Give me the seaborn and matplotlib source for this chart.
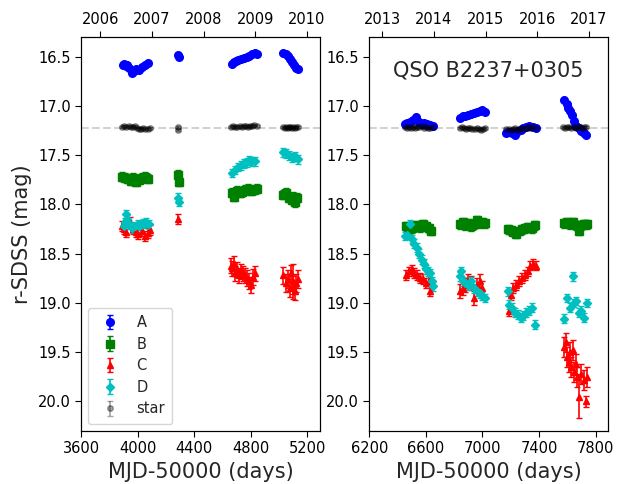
import numpy as np
import pandas as pd
import matplotlib
matplotlib.use('Agg')
import matplotlib.pyplot as plt
import seaborn as sns

# ---- light curves (MJD-50000, r-SDSS mag) ----
mjd_A = [3895, 3905, 3915, 3925, 3940, 3960, 3975, 3990, 4010, 4030, 4050, 4075,
         4285, 4290,
         4665, 4680, 4695, 4710, 4730, 4750, 4770, 4790, 4810, 4830, 4845,
         5030, 5045, 5060, 5075, 5090, 5105, 5120, 5135,
         6450, 6470, 6490, 6510, 6530, 6550, 6570, 6590, 6610, 6630, 6650,
         6840, 6860, 6880, 6900, 6920, 6940, 6960, 6980, 7000, 7020,
         7170, 7190, 7210, 7230, 7250, 7270, 7290, 7310, 7330, 7360, 7380,
         7580, 7595, 7605, 7620, 7635, 7650, 7665, 7680, 7700, 7720, 7735]
mag_A = [16.58, 16.57, 16.59, 16.58, 16.61, 16.67, 16.64, 16.62, 16.63, 16.60, 16.58, 16.56,
         16.48, 16.50,
         16.57, 16.55, 16.54, 16.53, 16.52, 16.51, 16.50, 16.49, 16.47, 16.46, 16.47,
         16.46, 16.47, 16.49, 16.52, 16.55, 16.58, 16.61, 16.62,
         17.18, 17.17, 17.16, 17.14, 17.11, 17.16, 17.18, 17.17, 17.18, 17.19, 17.20,
         17.12, 17.10, 17.10, 17.09, 17.08, 17.07, 17.06, 17.05, 17.04, 17.06,
         17.27, 17.26, 17.27, 17.29, 17.25, 17.24, 17.22, 17.21, 17.20, 17.21, 17.22,
         16.94, 16.98, 17.02, 17.05, 17.09, 17.15, 17.20, 17.22, 17.25, 17.27, 17.29]
err_A = 0.012

mjd_B = [3890, 3910, 3930, 3950, 3970, 3990, 4010, 4030, 4050, 4075,
         4286, 4289,
         4665, 4680, 4700, 4720, 4740, 4760, 4780, 4800, 4820, 4840,
         5030, 5050, 5070, 5090, 5100, 5110, 5125,
         6460, 6480, 6500, 6520, 6540, 6560, 6580, 6600, 6620, 6640,
         6840, 6860, 6880, 6900, 6920, 6940, 6960, 6980, 7000, 7020,
         7180, 7200, 7220, 7240, 7260, 7280, 7300, 7320, 7350, 7375,
         7580, 7600, 7620, 7640, 7660, 7680, 7700, 7720, 7740]
mag_B = [17.72, 17.73, 17.74, 17.76, 17.73, 17.77, 17.75, 17.73, 17.72, 17.74,
         17.70, 17.77,
         17.88, 17.92, 17.86, 17.88, 17.87, 17.85, 17.84, 17.86, 17.85, 17.84,
         17.90, 17.88, 17.93, 17.95, 17.92, 17.98, 17.93,
         18.22, 18.25, 18.24, 18.22, 18.21, 18.23, 18.20, 18.22, 18.24, 18.27,
         18.20, 18.18, 18.21, 18.19, 18.22, 18.20, 18.16, 18.19, 18.18, 18.19,
         18.25, 18.26, 18.28, 18.30, 18.27, 18.25, 18.24, 18.23, 18.24, 18.21,
         18.19, 18.18, 18.20, 18.18, 18.21, 18.27, 18.21, 18.20, 18.20]
err_B = 0.045

mjd_C = [3890, 3905, 3920, 3945, 3965, 3985, 4005, 4030, 4050, 4070, 4085,
         4287,
         4660, 4670, 4680, 4690, 4700, 4715, 4730, 4745, 4760, 4775, 4790, 4800, 4815, 4830,
         5030, 5045, 5060, 5075, 5085, 5095, 5100, 5110, 5120, 5130,
         6460, 6480, 6500, 6520, 6540, 6560, 6580, 6600, 6620, 6630,
         6840, 6860, 6880, 6900, 6920, 6940, 6960, 6980, 7000,
         7185, 7200, 7220, 7240, 7260, 7280, 7300, 7320, 7340, 7360, 7380,
         7580, 7590, 7600, 7610, 7620, 7630, 7640, 7650, 7660, 7670, 7680, 7700, 7720, 7730, 7740]
mag_C = [18.22, 18.25, 18.28, 18.18, 18.25, 18.28, 18.30, 18.27, 18.32, 18.29, 18.26,
         18.15,
         18.62, 18.65, 18.60, 18.70, 18.66, 18.72, 18.68, 18.70, 18.72, 18.75, 18.78, 18.82, 18.74, 18.70,
         18.72, 18.80, 18.76, 18.85, 18.70, 18.82, 18.78, 18.88, 18.80, 18.76,
         18.72, 18.68, 18.66, 18.70, 18.72, 18.75, 18.76, 18.80, 18.78, 18.88,
         18.88, 18.85, 18.82, 18.78, 18.80, 18.95, 18.82, 18.78, 18.85,
         19.08, 18.92, 18.85, 18.82, 18.78, 18.75, 18.72, 18.68, 18.62, 18.60, 18.62,
         19.45, 19.40, 19.55, 19.60, 19.50, 19.65, 19.48, 19.70, 19.62, 19.75, 19.95, 19.72, 19.78, 20.00, 19.75]
err_C = [0.05, 0.05, 0.05, 0.05, 0.05, 0.05, 0.05, 0.05, 0.05, 0.05, 0.05,
         0.05,
         0.08, 0.08, 0.08, 0.08, 0.08, 0.08, 0.08, 0.08, 0.08, 0.08, 0.08, 0.08, 0.08, 0.08,
         0.09, 0.09, 0.09, 0.09, 0.09, 0.09, 0.18, 0.09, 0.09, 0.09,
         0.05, 0.05, 0.05, 0.05, 0.05, 0.05, 0.05, 0.05, 0.05, 0.05,
         0.07, 0.07, 0.07, 0.07, 0.07, 0.07, 0.07, 0.07, 0.07,
         0.05, 0.05, 0.05, 0.05, 0.05, 0.05, 0.05, 0.05, 0.05, 0.05, 0.05,
         0.10, 0.10, 0.10, 0.10, 0.10, 0.10, 0.10, 0.10, 0.10, 0.10, 0.22, 0.10, 0.10, 0.06, 0.10]

mjd_D = [3900, 3910, 3920, 3925, 3940, 3960, 3980, 4000, 4020, 4040, 4060, 4080,
         4286, 4289,
         4670, 4690, 4710, 4730, 4750, 4770, 4790, 4810, 4830,
         5030, 5050, 5070, 5090, 5110, 5130,
         6455, 6470, 6490, 6500, 6520, 6540, 6555, 6570, 6585, 6600, 6615, 6630, 6645, 6650,
         6840, 6850, 6860, 6880, 6900, 6920, 6940, 6960, 6980, 7000, 7020,
         7180, 7190, 7210, 7230, 7250, 7270, 7290, 7310, 7330, 7350, 7370,
         7580, 7600, 7620, 7640, 7650, 7660, 7680, 7700, 7720, 7740]
mag_D = [18.22, 18.18, 18.10, 18.15, 18.20, 18.24, 18.22, 18.20, 18.21, 18.19, 18.18, 18.20,
         17.93, 17.97,
         17.68, 17.65, 17.62, 17.60, 17.58, 17.57, 17.55, 17.56, 17.56,
         17.47, 17.48, 17.50, 17.52, 17.51, 17.54,
         18.32, 18.31, 18.20, 18.35, 18.40, 18.44, 18.50, 18.56, 18.60, 18.66, 18.68, 18.70, 18.78, 18.83,
         18.73, 18.68, 18.78, 18.80, 18.82, 18.78, 18.85, 18.88, 18.90, 18.93, 18.95,
         18.88, 19.02, 19.05, 19.10, 19.12, 19.15, 19.13, 19.10, 19.08, 19.05, 19.22,
         19.16, 18.95, 19.05, 18.73, 19.00, 18.98, 19.10, 19.08, 19.15, 19.00]
err_D = 0.045

mjd_star = [3890, 3905, 3920, 3935, 3950, 3965, 3980, 3995, 4010, 4025, 4040, 4055, 4070, 4085,
            4286, 4288,
            4660, 4675, 4690, 4705, 4720, 4735, 4750, 4765, 4780, 4795, 4810, 4825, 4840,
            5030, 5040, 5050, 5060, 5070, 5080, 5090, 5100, 5110, 5120, 5130,
            6450, 6465, 6480, 6495, 6510, 6525, 6540, 6555, 6570, 6585, 6600, 6615, 6630, 6650,
            6840, 6855, 6870, 6885, 6900, 6915, 6930, 6945, 6960, 6975, 6990, 7005, 7020,
            7170, 7185, 7200, 7215, 7230, 7245, 7260, 7275, 7290, 7305, 7320, 7340, 7360, 7380,
            7570, 7585, 7600, 7615, 7630, 7645, 7660, 7675, 7690, 7705, 7720, 7735]
mag_star = [17.21, 17.20, 17.21, 17.20, 17.21, 17.21, 17.20, 17.22, 17.23, 17.23, 17.22, 17.23, 17.23, 17.22,
            17.21, 17.24,
            17.21, 17.20, 17.21, 17.21, 17.20, 17.21, 17.20, 17.20, 17.21, 17.20, 17.20, 17.19, 17.20,
            17.21, 17.22, 17.21, 17.22, 17.21, 17.21, 17.22, 17.21, 17.22, 17.21, 17.21,
            17.21, 17.22, 17.21, 17.22, 17.21, 17.22, 17.21, 17.21, 17.20, 17.22, 17.21, 17.22, 17.22, 17.21,
            17.22, 17.21, 17.22, 17.23, 17.22, 17.22, 17.23, 17.23, 17.22, 17.23, 17.24, 17.23, 17.22,
            17.23, 17.23, 17.24, 17.23, 17.22, 17.24, 17.23, 17.22, 17.23, 17.22, 17.21, 17.22, 17.21, 17.22,
            17.21, 17.22, 17.21, 17.21, 17.22, 17.21, 17.22, 17.21, 17.21, 17.22, 17.21, 17.21]
err_star = 0.01

star_ref = 17.22

# top axis: 1 January of each year in MJD-50000
years_left = ['2006', '2007', '2008', '2009', '2010']
year_mjd_left = [3736, 4101, 4466, 4832, 5197]
years_right = ['2013', '2014', '2015', '2016', '2017']
year_mjd_right = [6293, 6658, 7023, 7388, 7754]

series = [
    ('A', mjd_A, mag_A, err_A, 'b', 'o', 5.5, 1.0),
    ('B', mjd_B, mag_B, err_B, 'g', 's', 5.5, 1.0),
    ('C', mjd_C, mag_C, err_C, 'r', '^', 5.0, 1.0),
    ('D', mjd_D, mag_D, err_D, 'c', 'D', 4.5, 1.0),
    ('star', mjd_star, mag_star, err_star, 'k', 'o', 4.0, 0.35),
]

sns.set_style('ticks', rc={'axes.edgecolor': 'black', 'xtick.color': 'black',
                           'ytick.color': 'black', 'axes.linewidth': 1.0})
plt.rcParams['font.family'] = ['DejaVu Sans']

fig = plt.figure(figsize=(6.29, 4.84), dpi=100)
ax1 = fig.add_axes([0.129, 0.1095, 0.38, 0.814])
ax2 = fig.add_axes([0.587, 0.1095, 0.38, 0.814])

for ax, xlim, ymjd, ylab in [(ax1, (3600, 5290), year_mjd_left, years_left),
                             (ax2, (6200, 7890), year_mjd_right, years_right)]:
    ax.axhline(star_ref, color='grey', alpha=0.35, ls='--', lw=1.5, zorder=0)
    for name, x, y, e, c, m, ms, a in series:
        ax.errorbar(x, y, yerr=e, fmt=m, color=c, ms=ms, capsize=2.5,
                    elinewidth=1.2, alpha=a, label=name)
    ax.set_xlim(*xlim)
    ax.set_ylim(20.3, 16.3)
    ax.set_xticks(np.arange(xlim[0], xlim[1], 400))
    ax.set_yticks([16.5, 17.0, 17.5, 18.0, 18.5, 19.0, 19.5, 20.0])
    ax.tick_params(labelsize=10.5, length=4)
    ax.set_xlabel('MJD-50000 (days)', fontsize=15)
    top = ax.twiny()
    top.set_xlim(*xlim)
    top.set_xticks(ymjd)
    top.set_xticklabels(ylab)
    top.tick_params(labelsize=10.5, length=4)

ax1.set_ylabel('r-SDSS (mag)', fontsize=15)
ax1.legend(loc='lower left', fontsize=10.5, borderpad=0.5, labelspacing=0.45)
ax2.text(0.5, 0.915, 'QSO B2237+0305', transform=ax2.transAxes,
         ha='center', va='center', fontsize=15)

fig.savefig('out.png', dpi=100)
